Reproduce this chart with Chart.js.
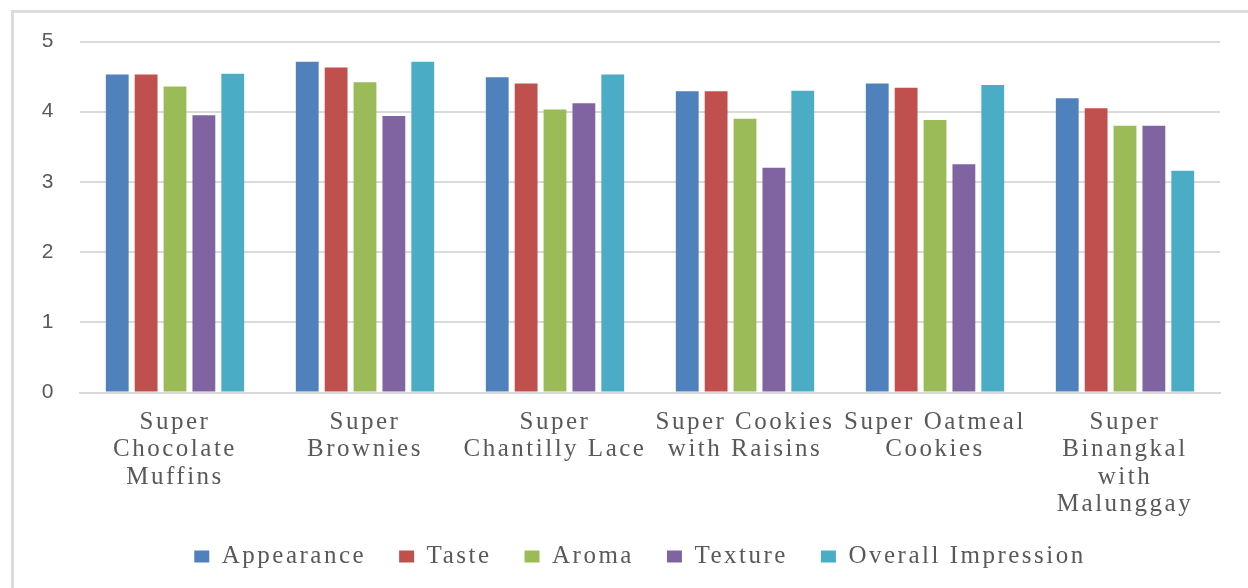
<!DOCTYPE html>
<html>
<head>
<meta charset="utf-8">
<script src="https://cdn.jsdelivr.net/npm/chart.js@4"></script>
<style>
  html, body { margin: 0; padding: 0; background: #ffffff; overflow: hidden; }
  #frame {
    position: absolute; left: 11px; top: 10px; width: 1400px; height: 700px;
    border-left: 3px solid #dcdcdc; border-top: 3px solid #dcdcdc;
  }
  #chart { position: absolute; left: 0; top: 0; }
</style>
</head>
<body>
<div id="frame"></div>
<canvas id="chart" width="1248" height="588"></canvas>
<script>
const categories = [
  ['Super', 'Chocolate', 'Muffins'],
  ['Super', 'Brownies'],
  ['Super', 'Chantilly Lace'],
  ['Super Cookies', 'with Raisins'],
  ['Super Oatmeal', 'Cookies'],
  ['Super', 'Binangkal', 'with', 'Malunggay']
];
const appearance = [4.53, 4.71, 4.49, 4.29, 4.40, 4.19];
const taste      = [4.53, 4.63, 4.40, 4.29, 4.34, 4.05];
const aroma      = [4.36, 4.42, 4.03, 3.90, 3.88, 3.80];
const texture    = [3.95, 3.94, 4.12, 3.20, 3.25, 3.80];
const overall    = [4.54, 4.71, 4.53, 4.30, 4.38, 3.16];
const yTicks = [0, 1, 2, 3, 4, 5];

const labelColor = '#595959';
const serif = '"Liberation Serif", "Times New Roman", serif';

// Excel-style text is widely spaced, canvas letterSpacing gets close
const spacing = {
  id: 'spacing',
  beforeUpdate(chart) { chart.ctx.letterSpacing = '2.5px'; },
  afterLayout(chart) {
    // labels are clipped to their scale box, let them overflow like the original
    chart.scales.y.left = 0;
    chart.scales.x.bottom += 20;
  },
  beforeDraw(chart) { chart.ctx.letterSpacing = '2.5px'; }
};

function bar(label, data, color) {
  return {
    label: label,
    data: data,
    backgroundColor: color,
    borderWidth: 0,
    categoryPercentage: 0.76,
    barPercentage: 0.79
  };
}

new Chart(document.getElementById('chart'), {
  type: 'bar',
  data: {
    labels: categories,
    datasets: [
      bar('Appearance', appearance, '#4F81BD'),
      bar('Taste', taste, '#C0504D'),
      bar('Aroma', aroma, '#9BBB59'),
      bar('Texture', texture, '#8064A2'),
      bar('Overall Impression', overall, '#4BACC6')
    ]
  },
  options: {
    responsive: false,
    animation: false,
    layout: { padding: { left: 60, right: 28, top: 41.5, bottom: 9 } },
    plugins: {
      tooltip: { enabled: false },
      legend: {
        position: 'bottom',
        labels: {
          boxWidth: 15,
          boxHeight: 12,
          padding: 33,
          color: labelColor,
          font: { family: serif, size: 25 }
        }
      }
    },
    scales: {
      x: {
        grid: { display: false, drawTicks: false },
        border: { display: true, color: '#d9d9d9', width: 2 },
        afterFit: axis => { axis.height = 118.5; },
        ticks: {
          autoSkip: false,
          maxRotation: 0,
          padding: 16,
          color: labelColor,
          font: { family: serif, size: 25, lineHeight: 1.1 }
        }
      },
      y: {
        min: 0,
        max: 5,
        afterFit: axis => { axis.width = 20; },
        afterBuildTicks: axis => { axis.ticks = yTicks.map(v => ({ value: v })); },
        grid: { color: '#dadada', lineWidth: 2, drawTicks: false },
        border: { display: false },
        ticks: {
          padding: 24,
          color: labelColor,
          font: { family: '"Liberation Sans", Arial, sans-serif', size: 21 }
        }
      }
    }
  },
  plugins: [spacing]
});
</script>
</body>
</html>
